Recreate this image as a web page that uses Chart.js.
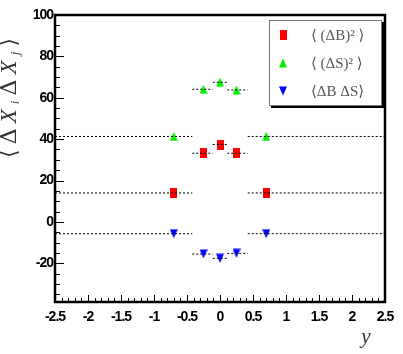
<!DOCTYPE html>
<html><head><meta charset="utf-8">
<script src="https://cdn.jsdelivr.net/npm/chart.js@4"></script>
<style>html,body{margin:0;padding:0;background:#fff;overflow:hidden}</style>
</head><body>
<canvas id="c" width="403" height="354"></canvas>
<script>
// ---- data ----
const xCenters = [-0.7, -0.25, 0, 0.25, 0.7];
const binLow  = [-2.5, -0.42, -0.11, 0.11, 0.42];
const binHigh = [-0.42, -0.11, 0.11, 0.42, 2.5];
const valuesBB = [14.0, 33.2, 37.4, 33.2, 14.0];
const valuesSS = [41.3, 64.1, 67.5, 63.8, 41.3];
const valuesBS = [-5.7, -15.5, -17.6, -15.2, -5.7];
const seriesLabels = ['\u27E8 (\u0394B)\u00B2 \u27E9', '\u27E8 (\u0394S)\u00B2 \u27E9', '\u27E8\u0394B \u0394S\u27E9'];
const yTickValues = [-20, 0, 20, 40, 60, 80, 100];
const xTickValues = [-2.5, -2, -1.5, -1, -0.5, 0, 0.5, 1, 1.5, 2, 2.5];
const xTitle = 'y';

// ---- markers ----
function makeMarker(type, color) {
  const c = document.createElement('canvas');
  const w = type === 'rect' ? 7 : 8, h = 10;
  c.width = w; c.height = h;
  const g = c.getContext('2d');
  g.fillStyle = color;
  if (type === 'rect') { g.fillRect(0, 0, w, h); }
  else if (type === 'up') { g.beginPath(); g.moveTo(w/2, 0.5); g.lineTo(w, h-0.5); g.lineTo(0, h-0.5); g.closePath(); g.fill(); }
  else { g.beginPath(); g.moveTo(0, 0.5); g.lineTo(w, 0.5); g.lineTo(w/2, h-0.5); g.closePath(); g.fill(); }
  return c;
}
const series = [
  {label: seriesLabels[0], values: valuesBB, marker: makeMarker('rect', '#ff0000')},
  {label: seriesLabels[1], values: valuesSS, marker: makeMarker('up', '#00ee00')},
  {label: seriesLabels[2], values: valuesBS, marker: makeMarker('down', '#0000ff')}
];

const datasets = [];
series.forEach(s => {
  s.values.forEach((v, i) => {
    datasets.push({
      type: 'scatter', showLine: true, order: 0,
      data: [{x: binLow[i], y: v}, {x: binHigh[i], y: v}],
      borderColor: '#000', borderWidth: 1, borderDash: [2, 2],
      pointRadius: 0, pointHoverRadius: 0
    });
  });
  datasets.push({
    type: 'scatter', label: s.label, order: 1,
    data: xCenters.map((x, i) => ({x: x, y: s.values[i]})),
    pointStyle: s.marker, pointRadius: 5, pointHoverRadius: 5
  });
});

const decor = {
  id: 'decor',
  beforeDraw(chart) {
    // narrower tick label spacing, like the condensed bold axis font of the original
    if ('letterSpacing' in chart.ctx) chart.ctx.letterSpacing = '-1px';
  },
  afterDraw(chart) {
    const ctx = chart.ctx, a = chart.chartArea;
    const xs = chart.scales.x, ys = chart.scales.y;
    if ('letterSpacing' in ctx) ctx.letterSpacing = '0px';
    ctx.save();
    // inward ticks
    ctx.strokeStyle = '#000'; ctx.lineWidth = 1;
    ctx.beginPath();
    for (let k = Math.ceil(ys.min / 5); k * 5 <= ys.max; k++) {
      const v = k * 5, py = Math.round(ys.getPixelForValue(v)) + 0.5;
      const len = (v % 20 === 0) ? 9 : 5;
      ctx.moveTo(a.left, py); ctx.lineTo(a.left + len, py);
    }
    for (let k = Math.ceil(xs.min * 10 - 1e-6); k <= Math.floor(xs.max * 10 + 1e-6); k++) {
      const px = Math.round(xs.getPixelForValue(k / 10)) + 0.5;
      const len = (k % 5 === 0) ? 7 : 4;
      ctx.moveTo(px, a.bottom); ctx.lineTo(px, a.bottom - len);
    }
    ctx.stroke();
    // frame
    ctx.lineWidth = 2.5;
    ctx.strokeRect(a.left, a.top, a.right - a.left, a.bottom - a.top);

    // legend
    const lx = 269, ly = 20, lw = 113, lh = 86;
    ctx.fillStyle = '#000'; ctx.fillRect(lx + 2, ly + 2, lw, lh);
    ctx.fillStyle = '#fff'; ctx.fillRect(lx, ly, lw, lh);
    ctx.lineWidth = 1; ctx.strokeStyle = '#777';
    ctx.strokeRect(lx + 0.5, ly + 0.5, lw - 1, lh - 1);
    const rows = [35, 63, 91];
    ctx.font = '15px "Liberation Serif", "DejaVu Serif", serif';
    ctx.fillStyle = '#555'; ctx.textBaseline = 'middle'; ctx.textAlign = 'left';
    series.forEach((s, i) => {
      const m = s.marker;
      ctx.drawImage(m, 283 - m.width / 2, rows[i] - m.height / 2);
      ctx.fillText(s.label, 311, rows[i] + 1);
    });

    // x title
    ctx.fillStyle = '#333';
    ctx.font = 'italic 21px "Liberation Serif", "DejaVu Serif", serif';
    ctx.textAlign = 'center';
    ctx.fillText(xTitle, 366, 337);

    // y title rotated
    const up = '22px "DejaVu Serif", "Liberation Serif", serif';
    const it = 'italic 23px "Liberation Serif", "DejaVu Serif", serif';
    const sb = 'italic 13px "Liberation Serif", "DejaVu Serif", serif';
    const parts = [
      {t: '\u27E8', f: up}, {t: '\u0394', f: up}, {t: 'X', f: it}, {t: 'i', f: sb, sub: true},
      {t: '\u0394', f: up}, {t: 'X', f: it}, {t: 'j', f: sb, sub: true}, {t: '\u27E9', f: up}
    ];
    let total = 0;
    parts.forEach(p => { ctx.font = p.f; p.w = ctx.measureText(p.t).width; total += p.w; });
    const target = 120;
    const gap = Math.max(0, (target - total) / (parts.length - 1));
    ctx.translate(10, 98);
    ctx.rotate(-Math.PI / 2);
    ctx.textAlign = 'left'; ctx.textBaseline = 'middle';
    let x = -(total + gap * (parts.length - 1)) / 2;
    parts.forEach(p => {
      ctx.font = p.f;
      ctx.fillText(p.t, x, p.sub ? 6 : 0);
      x += p.w + gap;
    });
    ctx.restore();
  }
};

const tickFont = {family: '"Liberation Sans", Arial, sans-serif', size: 14, weight: 'bold'};

new Chart(document.getElementById('c'), {
  type: 'scatter',
  data: {datasets: datasets},
  options: {
    responsive: false, animation: false, devicePixelRatio: 1,
    layout: {padding: {top: 15, right: 18, left: 0, bottom: 0}},
    plugins: {legend: {display: false}, tooltip: {enabled: false}},
    scales: {
      x: {
        type: 'linear', min: -2.5, max: 2.5,
        grid: {display: false, drawTicks: false}, border: {display: false},
        afterBuildTicks: s => { s.ticks = xTickValues.map(v => ({value: v})); },
        afterFit: s => { s.height = 52; },
        ticks: {color: '#000', font: tickFont, padding: 7, maxRotation: 0, autoSkip: false,
                callback: v => String(v)}
      },
      y: {
        type: 'linear', min: -38.7, max: 100,
        grid: {display: false, drawTicks: false}, border: {display: false},
        afterBuildTicks: s => { s.ticks = yTickValues.map(v => ({value: v})); },
        afterFit: s => { s.width = 55; },
        ticks: {color: '#000', font: tickFont, padding: 2, callback: v => String(v)}
      }
    }
  },
  plugins: [decor]
});
</script>
</body></html>
